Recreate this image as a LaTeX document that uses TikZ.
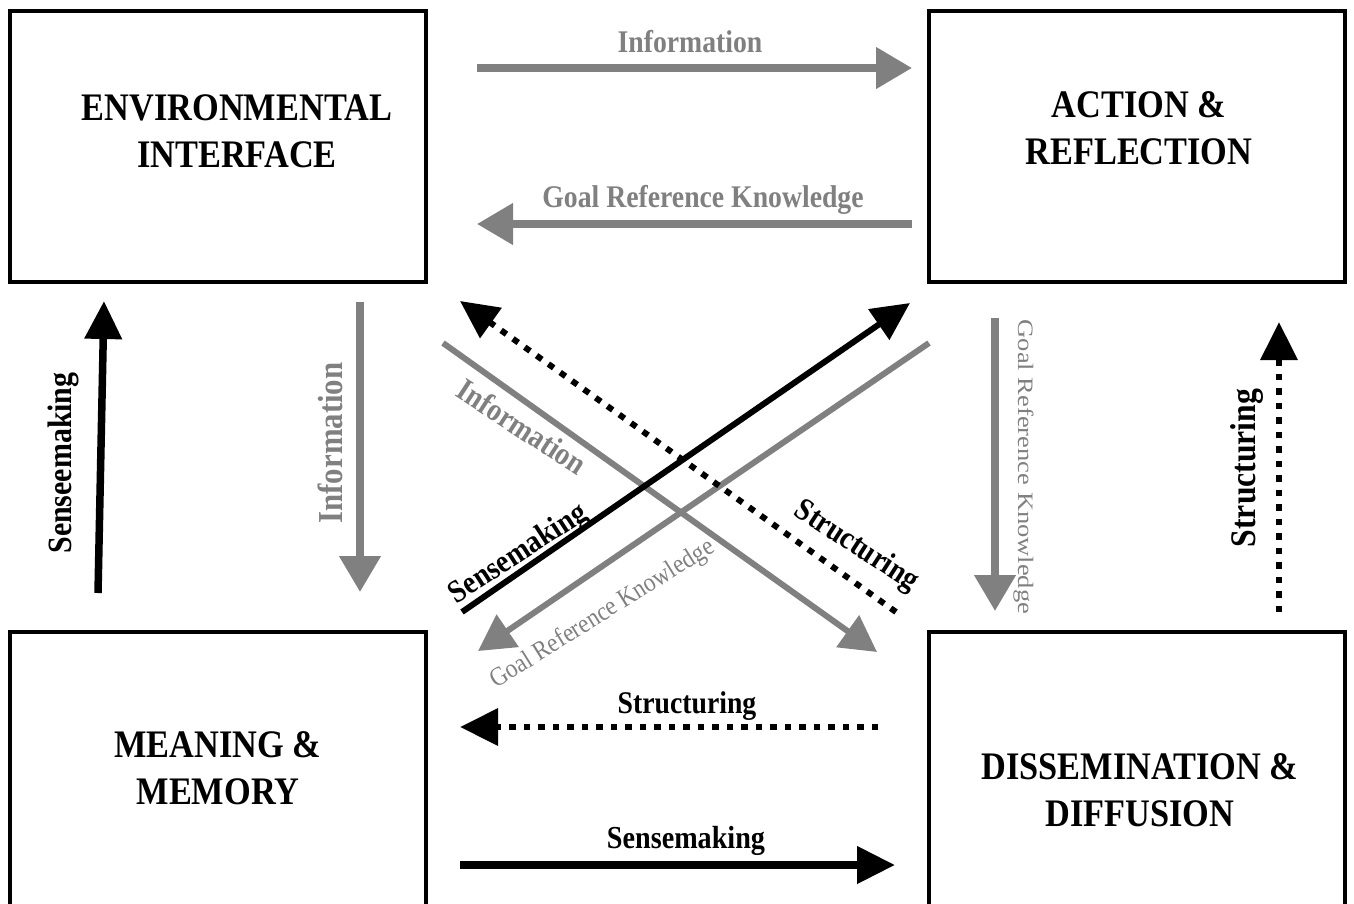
\documentclass[tikz,border=0pt]{standalone}
\usepackage{fontspec}
\usepackage{graphicx}
\setmainfont{Liberation Serif}[FakeStretch=0.88]
\usetikzlibrary{arrows.meta}
\definecolor{lg}{RGB}{128,128,128}
\tikzset{
  box/.style={draw=black, line width=4pt, minimum width=416pt, minimum height=271pt, inner sep=0pt},
  boxtxt/.style={font=\bfseries\fontsize{39}{47}\selectfont, align=center, inner sep=0pt},
  garr/.style={draw=lg, line width=7.5pt, -{Triangle[length=36pt,width=40pt]}},
  gdiag/.style={draw=lg, line width=6pt, -{Triangle[length=36pt,width=38pt]}},
  barr/.style={draw=black, line width=7.5pt, -{Triangle[length=38pt,width=36pt]}},
  bdiag/.style={draw=black, line width=6pt, -{Triangle[length=38pt,width=36pt]}},
  darr/.style={draw=black, line width=6.5pt, dash pattern=on 6.5pt off 8pt, -{Triangle[length=38pt,width=36pt]}},
  lblbase/.style={inner sep=0pt, anchor=base},
  glbl/.style={lblbase, text=lg, font=\bfseries\fontsize{#1}{#1}\selectfont},
  blbl/.style={lblbase, text=black, font=\bfseries\fontsize{#1}{#1}\selectfont},
  glreg/.style={lblbase, text=lg, font=\fontsize{#1}{#1}\selectfont},
}
\begin{document}
\begin{tikzpicture}[x=1pt, y=-1pt]
\useasboundingbox (0,0) rectangle (1354,903);
\clip (0,0) rectangle (1354,903);

% boxes (the lower two run past the bottom edge)
\node[box] (env) at (218,146.5) {};
\node[box] (act) at (1137,146.5) {};
\node[box, minimum height=320pt] (mem) at (218,792) {};
\node[box, minimum height=320pt] (dis) at (1137,792) {};

\node[boxtxt] (envt) at (237,131) {ENVIRONMENTAL\\INTERFACE};
\node[boxtxt] (actt) at (1139,128) {ACTION \&\\REFLECTION};
\node[boxtxt] (memt) at (218,768) {MEANING \&\\MEMORY};
\node[boxtxt] (dist) at (1140,790) {DISSEMINATION \&\\DIFFUSION};

% endpoints
\coordinate (iTs) at (477,68);   \coordinate (iTe) at (912,68);
\coordinate (gTs) at (912,224);  \coordinate (gTe) at (477,224);
\coordinate (sLs) at (98,593);   \coordinate (sLe) at (104,301);
\coordinate (iLs) at (360,302);  \coordinate (iLe) at (360,592);
\coordinate (gRs) at (995,318);  \coordinate (gRe) at (995,611);
\coordinate (tRs) at (1279,612); \coordinate (tRe) at (1279,322);
\coordinate (tBs) at (878,727);  \coordinate (tBe) at (460,727);
\coordinate (sBs) at (460,865);  \coordinate (sBe) at (895,865);
\coordinate (iDs) at (443,343);  \coordinate (iDe) at (877,652);
\coordinate (sDs) at (462,612);  \coordinate (sDe) at (910,303);
\coordinate (gDs) at (929,343);  \coordinate (gDe) at (478,651);
\coordinate (tDs) at (896,612);  \coordinate (tDe) at (460,301);

% connectors
\draw[garr] (iTs) -- (iTe);
\draw[garr] (gTs) -- (gTe);
\draw[barr] (sLs) -- (sLe);
\draw[garr] (iLs) -- (iLe);
\draw[garr] (gRs) -- (gRe);
\draw[darr] (tRs) -- (tRe);
\draw[darr] (tBs) -- (tBe);
\draw[barr] (sBs) -- (sBe);
\draw[gdiag] (iDs) -- (iDe);
\draw[gdiag] (gDs) -- (gDe);
\draw[darr, line width=6pt] (tDs) -- (tDe);
\draw[bdiag] (sDs) -- (sDe);

% labels
\node[glbl=31.5] (liT) at (690,52) {Information};
\node[glbl=31.5] (lgT) at (703,207) {Goal Reference Knowledge};
\node[blbl=34, rotate=90] (lsL) at (71,463) {Senseemaking};
\node[glbl=35, rotate=90] (liL) at (342,443) {Information};
\node[glreg=22, rotate=-90] (lgR) at (1018,467) {\scalebox{1.37}[1]{Goal Reference Knowledge}};
\node[blbl=36, rotate=90] (ltR) at (1255,468) {Structuring};
\node[blbl=31.5] (ltB) at (687,713) {Structuring};
\node[blbl=32] (lsB) at (686,848) {Sensemaking};
\node[glbl=32, rotate=-33] (liD) at (516,436) {Information};
\node[blbl=32, rotate=33] (lsD) at (523,561) {Sensemaking};
\node[blbl=32, rotate=-33] (ltD) at (852,553) {Structuring};
\node[glreg=26.5, rotate=32] (lgD) at (606,620) {Goal Reference Knowledge};
\end{tikzpicture}
\end{document}
